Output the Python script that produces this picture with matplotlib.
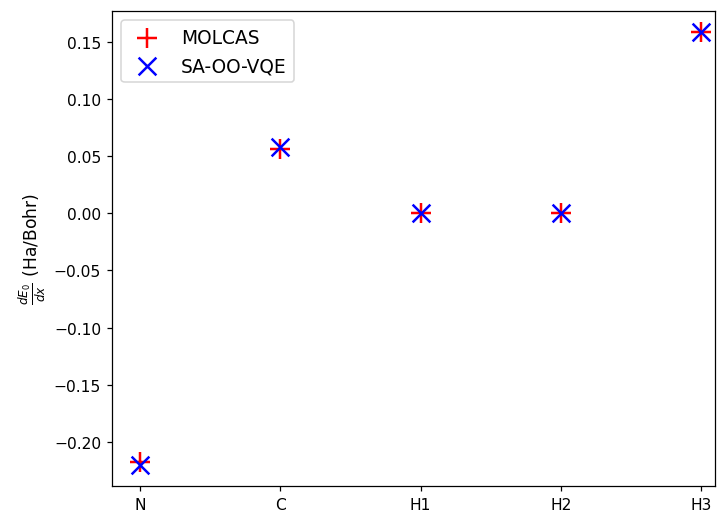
import matplotlib
matplotlib.use('Agg')
import matplotlib.pyplot as plt
import numpy as np

# atoms and gradients (Ha/Bohr)
atoms = ['N', 'C', 'H1', 'H2', 'H3']
molcas = [-0.2175, 0.0565, 0.0005, 0.0005, 0.1585]
sa_oo_vqe = [-0.2200, 0.0580, 0.0005, 0.0005, 0.1585]

x = np.arange(len(atoms))

fig = plt.figure(figsize=(6.41, 4.607), dpi=112)
ax = fig.add_axes([0.156, 0.056, 0.84, 0.921])

ax.scatter(x, molcas, marker='+', color='red', s=170, linewidths=1.6, label='MOLCAS')
ax.scatter(x, sa_oo_vqe, marker='x', color='blue', s=130, linewidths=1.6, label='SA-OO-VQE')

ax.set_xticks(x)
ax.set_xticklabels(atoms)
ax.set_xlim(-0.2, 4.1)
ax.set_ylabel(r'$\frac{dE_0}{dx}$ (Ha/Bohr)', fontsize=11)
ax.legend(loc='upper left', fontsize=12)

plt.savefig('out.png', dpi=112)
